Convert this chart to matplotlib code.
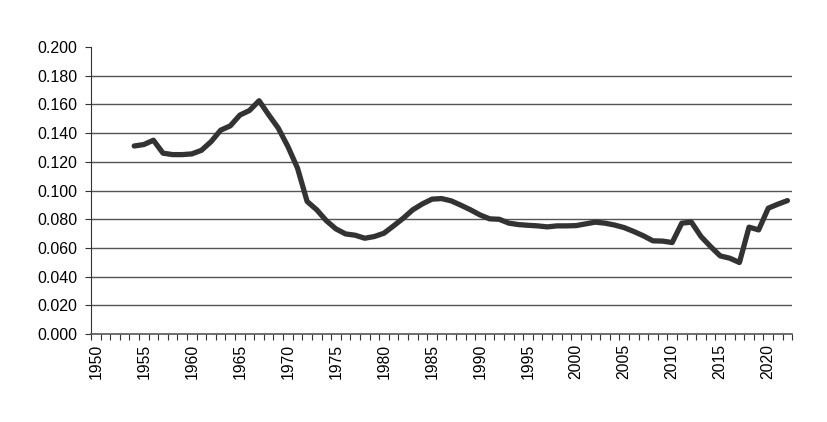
import matplotlib
matplotlib.use("Agg")
import matplotlib.pyplot as plt
import numpy as np
from matplotlib.ticker import FixedLocator, FormatStrFormatter

plt.rcParams["font.family"] = ["Liberation Sans", "DejaVu Sans"]

YEARS = list(range(1954, 2023))
VALUES = [
    0.131, 0.132, 0.135, 0.126, 0.125, 0.125, 0.1255, 0.128, 0.134, 0.142,
    0.145, 0.1525, 0.1557, 0.1625, 0.1527, 0.1434, 0.1306, 0.1156, 0.0924, 0.0866,
    0.079, 0.0733, 0.0698, 0.0689, 0.0668, 0.068, 0.0703, 0.0754, 0.0807, 0.0866,
    0.0907, 0.094, 0.0944, 0.0928, 0.0898, 0.0866, 0.083, 0.0803, 0.080, 0.0773,
    0.0763, 0.0758, 0.0754, 0.0747, 0.0754, 0.0754, 0.0756, 0.0768, 0.078, 0.0773,
    0.076, 0.0742, 0.0715, 0.0685, 0.065, 0.0648, 0.0638, 0.0773, 0.078, 0.068,
    0.061, 0.0545, 0.0529, 0.0499, 0.0745, 0.0726, 0.0877, 0.0905, 0.093,
]
FIRST_YEAR, LAST_YEAR = 1950, 2022
LABEL_YEARS = list(range(1950, 2021, 5))
Y_TICKS = np.arange(0, 0.2001, 0.02)

fig = plt.figure(figsize=(8.27, 4.22), dpi=100)
ax = fig.add_axes([0.110, 0.208, 0.848, 0.681])

for y in Y_TICKS[1:-1]:
    ax.axhline(y, color="#555555", linewidth=1.0, zorder=1)

ax.plot(YEARS, VALUES, color="#333333", linewidth=3.8, solid_capstyle="round",
        solid_joinstyle="round", zorder=3)

ax.set_xlim(FIRST_YEAR - 0.5, LAST_YEAR + 0.5)
ax.set_ylim(0, 0.2)

ax.xaxis.set_major_locator(FixedLocator(LABEL_YEARS))
ax.xaxis.set_minor_locator(FixedLocator(np.arange(FIRST_YEAR - 0.5, LAST_YEAR + 0.51, 1)))
ax.set_xticklabels([str(y) for y in LABEL_YEARS], rotation=90, fontsize=11.3)
ax.tick_params(axis="x", which="major", length=0, pad=7)
ax.tick_params(axis="x", which="minor", length=4, width=0.8, direction="out", color="#333333")

ax.yaxis.set_major_locator(FixedLocator(Y_TICKS))
ax.yaxis.set_major_formatter(FormatStrFormatter("%.3f"))
ax.tick_params(axis="y", length=4, width=0.8, direction="out", color="#333333",
               labelsize=11.5, pad=6)

for side in ("top", "right"):
    ax.spines[side].set_visible(False)
ax.spines["left"].set_color("#333333")
ax.spines["left"].set_linewidth(0.8)
ax.spines["bottom"].set_color("#555555")
ax.spines["bottom"].set_linewidth(1.2)

fig.savefig("out.png", dpi=100)
